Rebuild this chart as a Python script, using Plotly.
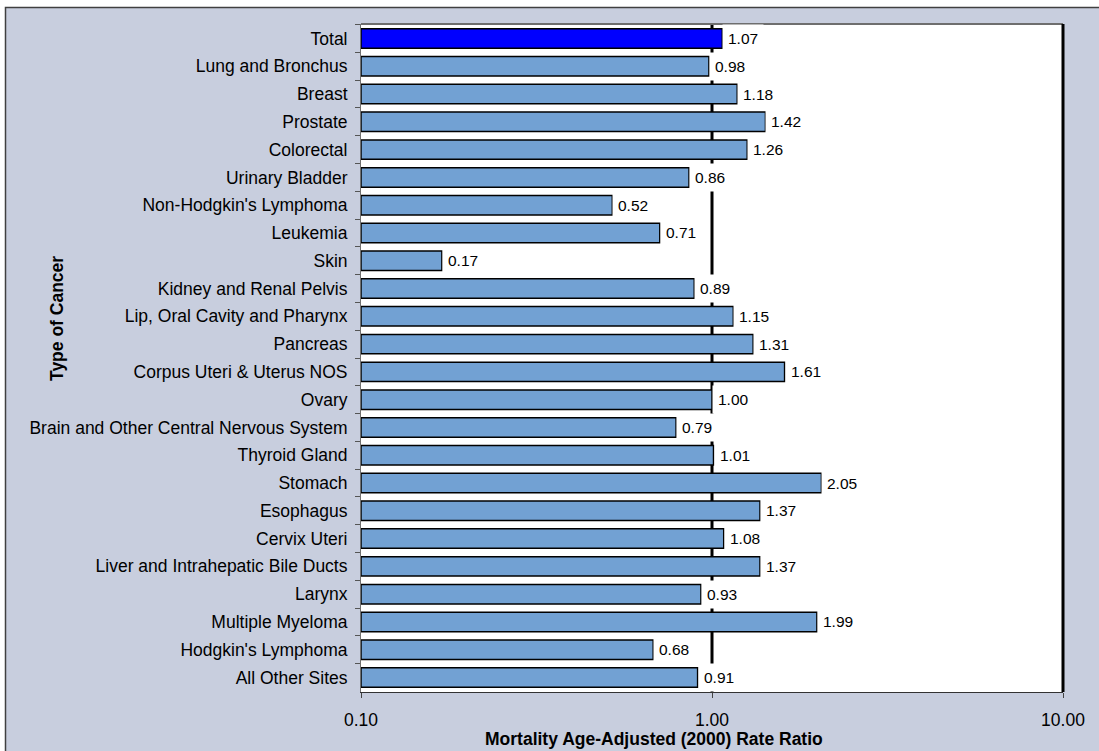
import math
import plotly.graph_objects as go

categories = [
    "Total", "Lung and Bronchus", "Breast", "Prostate", "Colorectal",
    "Urinary Bladder", "Non-Hodgkin's Lymphoma", "Leukemia", "Skin",
    "Kidney and Renal Pelvis", "Lip, Oral Cavity and Pharynx", "Pancreas",
    "Corpus Uteri & Uterus NOS", "Ovary", "Brain and Other Central Nervous System",
    "Thyroid Gland", "Stomach", "Esophagus", "Cervix Uteri",
    "Liver and Intrahepatic Bile Ducts", "Larynx", "Multiple Myeloma",
    "Hodgkin's Lymphoma", "All Other Sites",
]
ratios = [1.07, 0.98, 1.18, 1.42, 1.26, 0.86, 0.52, 0.71, 0.17, 0.89, 1.15, 1.31,
          1.61, 1.00, 0.79, 1.01, 2.05, 1.37, 1.08, 1.37, 0.93, 1.99, 0.68, 0.91]
x_tick_vals = [0.1, 1, 10]
x_tick_text = ["0.10", "1.00", "10.00"]
axis_base = 0.1
reference_ratio = 1.0

FONT = "Arial, Liberation Sans, sans-serif"
BAR = "#72A1D3"
TOTAL = "#0000FF"
BG = "#C8CEDE"

W, H = 1099, 751
L, R, T, B = 361, 36, 24, 59
PW, PH = W - L - R, H - T - B

def px_x(p):
    return (p - L) / PW

def px_y(p):
    return (H - B - p) / PH

colors = [TOTAL if c == "Total" else BAR for c in categories]

fig = go.Figure()
fig.add_trace(go.Bar(
    y=categories,
    x=[v - axis_base for v in ratios],
    base=axis_base,
    orientation="h",
    marker=dict(color=colors, line=dict(color="#000000", width=1.5)),
    hoverinfo="skip",
))

annotations = []
for c, v in zip(categories, ratios):
    annotations.append(dict(
        x=math.log10(v), y=c, xref="x", yref="y",
        text=f"{v:.2f}", showarrow=False, xanchor="left", yanchor="middle",
        bgcolor="#FFFFFF", borderpad=5, xshift=0,
        font=dict(family=FONT, size=15.5, color="#000000"),
    ))

annotations.append(dict(
    x=px_x(57), y=px_y(319), xref="paper", yref="paper",
    text="<b>Type of Cancer</b>", textangle=-90, showarrow=False,
    xanchor="center", yanchor="middle",
    font=dict(family=FONT, size=17.5, color="#000000"),
))
annotations.append(dict(
    x=px_x(654), y=px_y(739), xref="paper", yref="paper",
    text="<b>Mortality Age-Adjusted (2000) Rate Ratio</b>", showarrow=False,
    xanchor="center", yanchor="middle",
    font=dict(family=FONT, size=17.5, color="#000000"),
))

shapes = [
    # white strips outside the outer frame
    dict(type="rect", xref="paper", yref="paper", x0=px_x(-5), x1=px_x(5.5),
         y0=px_y(760), y1=px_y(-5), fillcolor="#FFFFFF", line=dict(width=0), layer="below"),
    dict(type="rect", xref="paper", yref="paper", x0=px_x(-5), x1=px_x(1105),
         y0=px_y(7.5), y1=px_y(-5), fillcolor="#FFFFFF", line=dict(width=0), layer="below"),
    # outer frame
    dict(type="rect", xref="paper", yref="paper", x0=px_x(5.5), x1=px_x(1110),
         y0=px_y(770), y1=px_y(7.5), line=dict(color="#404040", width=1.5), layer="below"),
    # reference line at ratio 1
    dict(type="line", xref="x", yref="paper", x0=reference_ratio, x1=reference_ratio,
         y0=0, y1=1, line=dict(color="#000000", width=3), layer="below"),
    # plot frame: top gray, right black
    dict(type="line", xref="paper", yref="paper", x0=0, x1=1, y0=1, y1=1,
         line=dict(color="#6E6E6E", width=2), layer="above"),
    dict(type="line", xref="paper", yref="paper", x0=1, x1=1, y0=0, y1=1,
         line=dict(color="#000000", width=3), layer="above"),
]

fig.update_layout(
    width=W, height=H,
    margin=dict(l=L, r=R, t=T, b=B, pad=0),
    paper_bgcolor=BG, plot_bgcolor="#FFFFFF",
    bargap=0.3, showlegend=False,
    font=dict(family=FONT, size=17.5, color="#000000"),
    annotations=annotations, shapes=shapes,
)
fig.update_xaxes(
    type="log", range=[math.log10(0.1), math.log10(10)],
    tickvals=x_tick_vals, ticktext=x_tick_text,
    ticks="outside", ticklen=5, tickcolor="#444444", tickwidth=1,
    ticklabelstandoff=7,
    showgrid=False, zeroline=False,
    showline=True, linecolor="#333333", linewidth=1,
    tickfont=dict(family=FONT, size=17.5, color="#000000"),
    fixedrange=True,
)
fig.update_yaxes(
    type="category", categoryorder="array", categoryarray=categories,
    autorange="reversed", tickson="boundaries",
    ticks="outside", ticklen=5, tickcolor="#555555", tickwidth=1,
    ticklabelstandoff=9,
    showgrid=False, zeroline=False,
    showline=True, linecolor="#707070", linewidth=1,
    tickfont=dict(family=FONT, size=17.5, color="#000000"),
    fixedrange=True,
)

fig.write_html(
    "out.html",
    config={"displayModeBar": False},
    post_script="document.body.style.margin='0';document.body.style.overflow='hidden';",
)
